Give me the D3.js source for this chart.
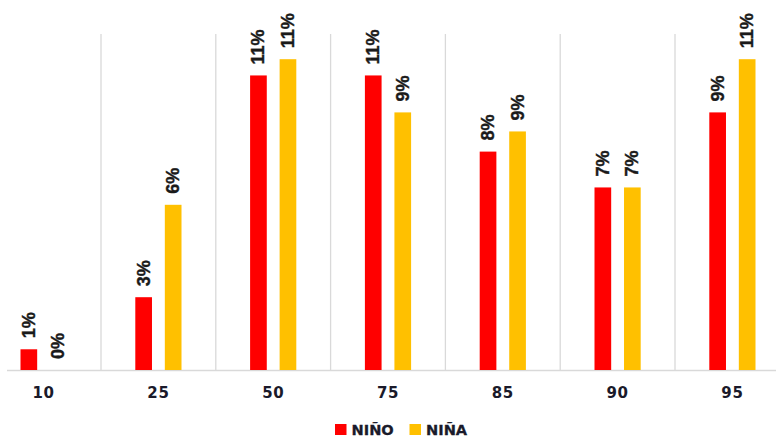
<!DOCTYPE html>
<html>
<head>
<meta charset="utf-8">
<script src="https://cdn.jsdelivr.net/npm/d3@7/dist/d3.min.js"></script>
<style>
  html, body { margin: 0; padding: 0; background: #fff; }
  svg { display: block; }
</style>
</head>
<body>
<svg id="chart" width="776" height="438"></svg>
<script>
// ---- data ----
const categories = ["10", "25", "50", "75", "85", "90", "95"];
const seriesNames = ["NIÑO", "NIÑA"];
const ninoValues = [0.74, 2.6, 10.52, 10.52, 7.8, 6.52, 9.2];
const ninaValues = [0, 5.9, 11.1, 9.2, 8.52, 6.52, 11.1];
const seriesColors = ["#FF0000", "#FFC000"];

const svg = d3.select("#chart");
const baseY = 370, topY = 34;

const x = d3.scaleBand().domain(categories).range([-13.8, 789.8]).paddingInner(0).paddingOuter(0);
const x1 = d3.scaleBand().domain(seriesNames).range([0, 46.2]).paddingInner(0.435).paddingOuter(0);
const y = d3.scaleLinear().domain([0, 12]).range([baseY, topY]);

// vertical gridlines at category boundaries
svg.append("g").selectAll("line")
  .data(categories.slice(0, -1))
  .join("line")
  .attr("x1", d => x(d) + x.bandwidth())
  .attr("x2", d => x(d) + x.bandwidth())
  .attr("y1", topY).attr("y2", baseY)
  .attr("stroke", "#d9d9d9").attr("stroke-width", 1.3);

// x axis
const xAxis = svg.append("g")
  .attr("transform", `translate(0,${baseY})`)
  .call(d3.axisBottom(x).tickSize(0).tickPadding(17));
xAxis.select(".domain").attr("stroke", "#d9d9d9").attr("stroke-width", 1.3)
  .attr("d", "M7,0.5H776");
xAxis.selectAll("text")
  .attr("font-family", "DejaVu Sans")
  .attr("font-weight", "bold")
  .attr("font-size", 15)
  .attr("letter-spacing", "0.6px")
  .attr("fill", "#1a1a2a");

const rows = categories.map((c, i) => ({ cat: c, vals: [ninoValues[i], ninaValues[i]] }));

const groups = svg.append("g").selectAll("g")
  .data(rows)
  .join("g")
  .attr("transform", d => `translate(${x(d.cat) + x.bandwidth() / 2 - 23.1},0)`);

groups.selectAll("rect")
  .data(d => d.vals.map((v, j) => ({ s: seriesNames[j], v, j })))
  .join("rect")
  .attr("x", d => x1(d.s))
  .attr("width", x1.bandwidth())
  .attr("y", d => y(d.v))
  .attr("height", d => baseY - y(d.v))
  .attr("fill", d => seriesColors[d.j]);

groups.selectAll("text")
  .data(d => d.vals.map((v, j) => ({ s: seriesNames[j], v, j })))
  .join("text")
  .attr("transform", d => `translate(${x1(d.s) + x1.bandwidth() / 2},${y(d.v) - 11}) rotate(-90)`)
  .attr("text-anchor", "start")
  .attr("dominant-baseline", "central")
  .attr("font-family", "Liberation Sans, Arial, sans-serif")
  .attr("font-weight", "bold")
  .attr("font-size", 18)
  .attr("fill", "#1a1a1a")
  .attr("stroke", "#1a1a1a")
  .attr("stroke-width", 0.4)
  .text(d => Math.round(d.v) + "%");

// legend
const legend = svg.append("g");
const legendX = [335, 409.5];
seriesNames.forEach((s, i) => {
  const g = legend.append("g").attr("transform", `translate(${legendX[i]},424)`);
  g.append("rect").attr("width", 11.5).attr("height", 11).attr("fill", seriesColors[i]);
  g.append("text")
    .attr("x", 16.5).attr("y", 11)
    .attr("font-family", "DejaVu Sans")
    .attr("font-weight", "bold")
    .attr("font-size", 14.6)
    .attr("fill", "#1a1a2a")
    .attr("stroke", "#1a1a2a")
    .attr("stroke-width", 0.3)
    .text(s);
});
</script>
</body>
</html>
